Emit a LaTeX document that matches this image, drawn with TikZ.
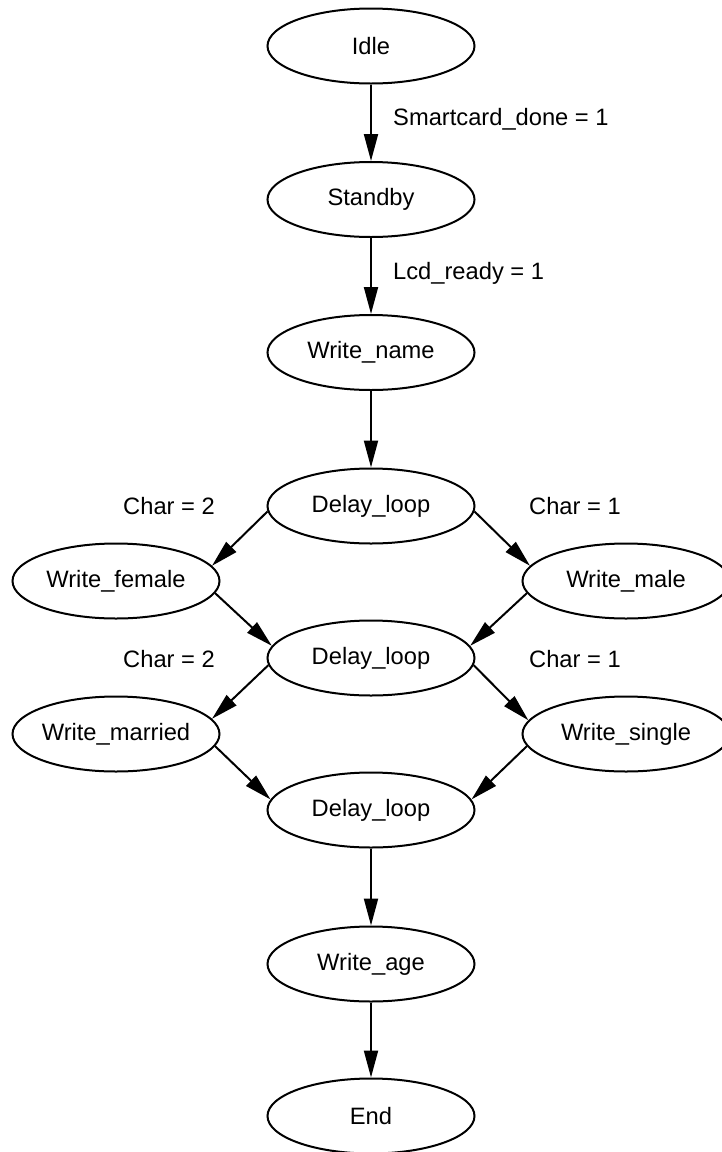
\documentclass[tikz,border=0pt]{standalone}
\usepackage{fontspec}
\setmainfont{Liberation Sans}
\usetikzlibrary{shapes.geometric,arrows.meta}
\newcommand{\lbl}[1]{\makebox[0pt]{#1}}
\tikzset{
  state/.style={ellipse, draw=black, line width=2pt, inner sep=0pt,
    minimum width=207pt, minimum height=75pt, font=\fontsize{23.7}{28}\selectfont},
  conn/.style={line width=2pt, -{Triangle[length=27pt,width=14pt]}},
  cond/.style={font=\fontsize{23.7}{28}\selectfont, inner sep=0pt}
}
\begin{document}
\begin{tikzpicture}[x=1pt,y=-1pt]
\useasboundingbox (0,0) rectangle (722,1152);
\node[state] (idle) at (371,46) {\lbl{Idle}};
\node[state] (standby) at (371,199.5) {\lbl{Standby}};
\node[state] (wname) at (371,352.5) {\lbl{Write\_name}};
\node[state] (d1) at (371,506) {\lbl{Delay\_loop}};
\node[state] (wfemale) at (116,581) {\lbl{Write\_female}};
\node[state] (wmale) at (626,581) {\lbl{Write\_male}};
\node[state] (d2) at (371,658) {\lbl{Delay\_loop}};
\node[state] (wmarried) at (116,734) {\lbl{Write\_married}};
\node[state] (wsingle) at (626,734) {\lbl{Write\_single}};
\node[state] (d3) at (371,810) {\lbl{Delay\_loop}};
\node[state] (wage) at (371,964) {\lbl{Write\_age}};
\node[state] (end) at (371,1116) {\lbl{End}};

\node[cond, anchor=west] (l1) at (393,119) {Smartcard\_done = 1};
\node[cond, anchor=west] (l2) at (393,273) {Lcd\_ready = 1};
\node[cond, anchor=east] (l3) at (215,506) {Char = 2};
\node[cond, anchor=west] (l4) at (529,506) {Char = 1};
\node[cond, anchor=east] (l5) at (215,659) {Char = 2};
\node[cond, anchor=west] (l6) at (529,659) {Char = 1};

\draw[conn] (idle) -- (standby);
\draw[conn] (standby) -- (wname);
\draw[conn] (wname) -- (d1);
\draw[conn] (d1.183) -- (wfemale.9);
\draw[conn] (d1.-3) -- (wmale.171);
\draw[conn] (wfemale.-7) -- (d2.173);
\draw[conn] (wmale.187) -- (d2.7);
\draw[conn] (d2.184) -- (wmarried.9);
\draw[conn] (d2.-4) -- (wsingle.172);
\draw[conn] (wmarried.-7) -- (d3.174);
\draw[conn] (wsingle.187) -- (d3.6);
\draw[conn] (d3) -- (wage);
\draw[conn] (wage) -- (end);
\end{tikzpicture}
\end{document}
